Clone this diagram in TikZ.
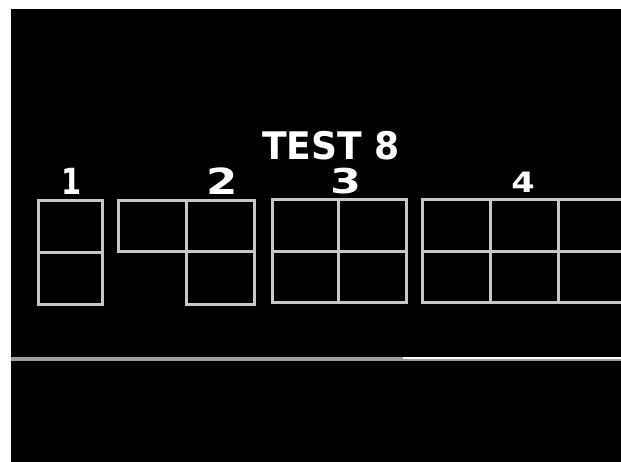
\documentclass[tikz,border=0pt]{standalone}
\usepackage{fontspec}
\setmainfont{DejaVu Sans}
\begin{document}
\begin{tikzpicture}[x=1pt,y=-1pt,
  gridline/.style={draw=white!78!black,line width=3pt},
  lbl/.style={text=white,font=\bfseries\fontsize{36}{36}\selectfont,inner sep=0pt,anchor=base,text depth=0pt,text height=26pt},
  title/.style={text=white,font=\bfseries\fontsize{38}{38}\selectfont,inner sep=0pt,anchor=base,text depth=0pt,text height=28pt}]
\useasboundingbox (0,0) rectangle (621,462);
\fill[white] (0,0) rectangle (621,462);
\fill[black] (11,9) rectangle (621,462);
\clip (11,9) rectangle (621,462);
% title
\node[title,xscale=0.95] (t) at (331,160) {TEST 8};
% labels
\node[lbl,xscale=0.8] (l1) at (72,195) {1};
\node[lbl,xscale=1.25] (l2) at (222,195) {2};
\node[lbl,scale=0.95,xscale=1.3] (l3) at (346,194) {3};
\node[lbl,scale=0.78,xscale=1.2] (l4) at (523,193) {4};
% shape 1: 1 x 2
\draw[gridline] (38,201) rectangle (102,305);
\draw[gridline] (38,253) -- (102,253);
% shape 2: L
\draw[gridline] (118,201) rectangle (186,252);
\draw[gridline] (186,201) rectangle (254,305);
\draw[gridline] (186,252) -- (254,252);
% shape 3: 2 x 2
\draw[gridline] (272,200) rectangle (406,303);
\draw[gridline] (338,200) -- (338,303);
\draw[gridline] (272,252) -- (406,252);
% shape 4: 3 x 2
\draw[gridline] (422,200) rectangle (625,303);
\draw[gridline] (490,200) -- (490,303);
\draw[gridline] (558,200) -- (558,303);
\draw[gridline] (422,252) -- (625,252);
% floor line
\draw[draw=white!62!black,line width=4pt] (11,358.5) -- (621,358.5);
\draw[draw=white,line width=2pt] (403,357.5) -- (621,357.5);
\end{tikzpicture}
\end{document}
